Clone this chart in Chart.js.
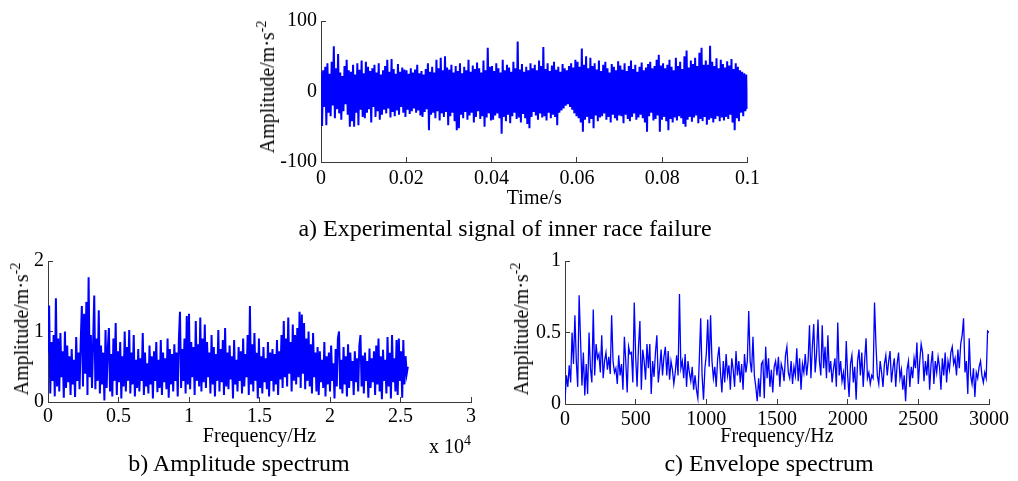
<!DOCTYPE html>
<html>
<head>
<meta charset="utf-8">
<script src="https://cdn.jsdelivr.net/npm/chart.js@4.4.0/dist/chart.umd.min.js"></script>
<style>
  body { margin: 0; background: #fff; font-family: "Liberation Serif", "Times New Roman", serif; }
  #wrap { position: relative; width: 1018px; height: 481px; overflow: hidden; }
  canvas { position: absolute; }
  .lbl { position: absolute; transform: translate(-50%, -50%); white-space: nowrap; color: #000; }
  .cap { font-size: 24px; }
  .ytitle { position: absolute; transform: translate(-50%, -50%) rotate(-90deg); white-space: nowrap; font-size: 20px; line-height: 20px; color: #000; }
  sup { font-size: 14px; vertical-align: 8px; line-height: 0; }
</style>
</head>
<body>
<div id="wrap">
  <canvas id="sigChart" width="530" height="212" style="left:240px;top:0px"></canvas>
  <canvas id="ampChart" width="500" height="210" style="left:0px;top:240px"></canvas>
  <canvas id="envChart" width="518" height="210" style="left:500px;top:240px"></canvas>

  <div class="ytitle" style="left:267px;top:87px">Amplitude/m·s<sup>-2</sup></div>
  <div class="ytitle" style="left:21px;top:329px">Amplitude/m·s<sup>-2</sup></div>
  <div class="ytitle" style="left:521px;top:329px">Amplitude/m·s<sup>-2</sup></div>

  <div class="lbl cap" style="left:505px;top:228px">a) Experimental signal of inner race failure</div>
  <div class="lbl cap" style="left:239px;top:463px">b) Amplitude spectrum</div>
  <div class="lbl cap" style="left:769px;top:463px">c) Envelope spectrum</div>
  <div class="lbl" style="left:450px;top:446px;font-size:20px">x 10<sup>4</sup></div>
</div>
<script>
// a) time signal, 0 - 0.1 s
var signalValues = [
  28, -49, 30, -22, 35, -48, 40, -30, 25, -35, 42, -20, 64, -38, 33, -25, 53, -31, 27, -40, 22, -28, 36, -18, 45, -33, 30, -50, 28, -42, 38, -50, 24, -30, 40, -48, 31, -26, 44, -36,
  26, -38, 42, -30, 35, -25, 29, -44, 33, -22, 38, -36, 27, -28, 40, -40, 24, -33, 30, -26, 36, -31, 45, -24, 28, -37, 46, -29, 32, -35, 25, -27, 39, -33, 28, -22, 34, -30, 31, -36,
  30, -26, 25, -32, 33, -28, 27, -24, 31, -30, 38, -27, 26, -34, 29, -36, 24, -29, 32, -25, 40, -55, 28, -33, 35, -30, 27, -38, 45, -28, 33, -41, 48, -31, 30, -36, 50, -29, 34, -48,
  31, -35, 38, -30, 27, -42, 36, -55, 29, -52, 40, -33, 26, -38, 35, -29, 30, -40, 45, -34, 28, -30, 37, -44, 32, -36, 41, -28, 33, -39, 27, -35, 44, -50, 30, -37, 62, -31, 35, -41,
  36, -40, 29, -34, 40, -31, 33, -38, 27, -60, 45, -36, 30, -42, 38, -33, 34, -45, 28, -35, 42, -30, 33, -39, 71, -37, 31, -44, 39, -32, 28, -38, 35, -46, 30, -52, 40, -36, 33, -29,
  38, -34, 30, -40, 44, -31, 36, -37, 63, -35, 32, -41, 40, -30, 29, -38, 37, -33, 42, -36, 31, -48, 35, -30, 28, -27, 39, -24, 33, -20, 30, -18, 36, -22, 40, -26, 34, -31, 45, -35,
  42, -38, 35, -44, 61, -57, 38, -40, 50, -36, 33, -45, 48, -39, 36, -52, 40, -34, 31, -42, 44, -37, 29, -35, 38, -31, 42, -40, 33, -36, 27, -44, 39, -33, 35, -38, 30, -41, 43, -34,
  37, -35, 31, -45, 40, -33, 29, -39, 36, -42, 44, -36, 32, -31, 38, -40, 28, -37, 35, -33, 41, -38, 30, -44, 34, -57, 39, -35, 42, -30, 33, -41, 36, -39, 45, -34, 52, -57, 37, -40,
  40, -36, 33, -42, 38, -55, 45, -39, 35, -44, 30, -37, 48, -41, 36, -35, 42, -38, 32, -46, 50, -50, 58, -40, 34, -36, 44, -43, 39, -37, 48, -34, 36, -45, 55, -39, 62, -42, 38, -36,
  44, -47, 38, -40, 65, -38, 42, -44, 36, -39, 47, -35, 33, -42, 45, -37, 39, -41, 34, -36, 43, -39, 37, -33, 46, -44, 32, -55, 40, -38, 35, -42, 30, -30, 28, -35, 26, -28, 24, -25
];
var signalDuration = 0.1;
var signalTicksX = [0, 0.02, 0.04, 0.06, 0.08, 0.1];
var signalTicksY = [-100, 0, 100];

// b) amplitude spectrum, one value every 80 Hz
var ampValues = [
  0.7, 1.37, 0.12, 0.85, 0.3, 0.95, 0.08, 1.47, 0.22, 0.9,
  0.15, 0.98, 0.35, 0.72, 0.06, 1.0, 0.2, 0.8, 0.28, 0.65,
  0.1, 0.75, 0.25, 0.6, 0.07, 0.92, 0.3, 0.7, 0.18, 0.85,
  1.36, 0.22, 1.25, 0.4, 1.42, 0.1, 1.77, 0.35, 0.95, 0.2,
  0.85, 1.51, 0.18, 0.9, 0.3, 1.3, 0.12, 0.8, 0.25, 0.7,
  0.02, 1.02, 0.2, 0.75, 1.05, 0.15, 0.68, 0.08, 0.9, 0.3,
  1.12, 0.1, 0.72, 0.28, 0.85, 0.05, 0.65, 0.22, 1.0, 0.15,
  0.78, 0.3, 1.02, 0.12, 0.7, 0.25, 0.95, 0.08, 0.6, 0.2,
  0.75, 0.15, 0.62, 0.3, 0.98, 0.1, 0.7, 0.22, 0.55, 0.12,
  0.8, 0.25, 0.65, 0.05, 0.72, 0.3, 0.85, 0.14, 0.6, 0.2,
  0.88, 0.1, 0.7, 0.28, 0.62, 0.18, 0.9, 0.06, 0.75, 0.25,
  0.68, 0.15, 0.82, 0.3, 0.7, 0.08, 0.88, 1.28, 0.2, 0.75,
  0.3, 0.9, 0.12, 1.22, 0.25, 1.25, 0.18, 0.85, 0.35, 0.78,
  0.1, 1.15, 0.3, 0.82, 0.22, 1.2, 0.15, 0.9, 0.28, 1.1,
  0.2, 0.85, 0.35, 0.7, 0.12, 0.95, 0.25, 0.78, 0.08, 0.68,
  0.3, 1.02, 0.15, 0.75, 0.28, 0.88, 0.1, 1.05, 0.22, 0.7,
  0.18, 0.8, 0.32, 0.65, 0.05, 0.88, 0.25, 0.6, 0.15, 0.78,
  0.3, 0.72, 0.12, 0.9, 0.22, 0.68, 0.35, 0.95, 0.1, 1.36,
  0.25, 0.82, 0.15, 0.98, 0.3, 0.7, 0.05, 0.9, 0.2, 0.65,
  0.12, 0.78, 0.28, 0.62, 0.18, 0.85, 0.08, 0.7, 0.3, 0.75,
  0.15, 0.68, 0.25, 0.88, 0.1, 0.72, 0.32, 0.95, 0.2, 1.15,
  0.35, 0.9, 0.22, 1.2, 0.4, 0.85, 0.15, 1.1, 0.3, 0.95,
  0.25, 1.05, 0.35, 1.28, 0.2, 1.24, 0.4, 1.12, 0.18, 0.9,
  0.3, 1.0, 0.22, 0.82, 0.12, 0.98, 0.35, 0.7, 0.15, 0.78,
  0.1, 0.72, 0.28, 0.6, 0.2, 0.85, 0.08, 0.65, 0.25, 0.7,
  0.15, 0.8, 0.3, 0.55, 0.05, 0.75, 0.22, 0.9, 1.0, 0.18,
  0.6, 0.12, 0.78, 0.25, 0.65, 0.08, 0.82, 0.2, 0.7, 0.3,
  0.58, 0.1, 0.72, 0.28, 0.62, 0.15, 0.8, 0.95, 0.22, 0.66,
  0.12, 0.7, 0.3, 0.58, 0.06, 0.76, 0.2, 0.62, 0.28, 0.72,
  0.1, 0.8, 0.25, 0.9, 0.15, 0.65, 0.04, 0.74, 0.3, 0.6,
  0.12, 0.92, 0.22, 0.7, 0.05, 0.95, 0.28, 0.62, 0.15, 0.88,
  0.1, 0.9, 0.3, 0.72, 0.06, 0.88, 0.25, 0.65, 0.4, 0.5
];
var ampStepHz = 80;
var ampTicksX = [0, 5000, 10000, 15000, 20000, 25000, 30000];
var ampTicksY = [0, 1, 2];

// c) envelope spectrum, one value every 10 Hz
var envValues = [
  0.02, 0.2, 0.12, 0.27, 0.15, 0.5, 0.28, 0.62, 0.3, 0.12,
  0.76, 0.45, 0.13, 0.36, 0.06, 0.28, 0.07, 0.5, 0.25, 0.15,
  0.66, 0.2, 0.42, 0.32, 0.35, 0.22, 0.48, 0.18, 0.3, 0.36,
  0.24, 0.33, 0.21, 0.62, 0.3, 0.22, 0.25, 0.14, 0.34, 0.2,
  0.28, 0.1, 0.47, 0.3, 0.08, 0.4, 0.35, 0.36, 0.15, 0.71,
  0.33, 0.12, 0.4, 0.58, 0.1, 0.38, 0.3, 0.17, 0.42, 0.25,
  0.42, 0.07, 0.3, 0.19, 0.36, 0.48, 0.15, 0.25, 0.38, 0.2,
  0.33, 0.4, 0.2, 0.37, 0.17, 0.3, 0.24, 0.14, 0.22, 0.34,
  0.2, 0.77, 0.25, 0.3, 0.18, 0.35, 0.12, 0.3, 0.22, 0.16,
  0.26, 0.1, 0.2, 0.1, 0.04, 0.3, 0.6, 0.2, 0.03, 0.25,
  0.35, 0.59, 0.26, 0.62, 0.3, 0.18, 0.26, 0.12, 0.32, 0.4,
  0.22, 0.08, 0.3, 0.15, 0.35, 0.2, 0.27, 0.1, 0.32, 0.24,
  0.12, 0.37, 0.2, 0.3, 0.15, 0.28, 0.1, 0.35, 0.22, 0.3,
  0.65, 0.3, 0.22, 0.47, 0.2, 0.12, 0.02, 0.18, 0.05, 0.28,
  0.3, 0.04, 0.4, 0.18, 0.32, 0.12, 0.24, 0.08, 0.26, 0.3,
  0.2, 0.33, 0.12, 0.28, 0.24, 0.16, 0.34, 0.4, 0.22, 0.18,
  0.3, 0.14, 0.26, 0.2, 0.39, 0.16, 0.32, 0.1, 0.28, 0.22,
  0.35, 0.2, 0.3, 0.55, 0.18, 0.4, 0.56, 0.22, 0.35, 0.59,
  0.3, 0.2, 0.55, 0.25, 0.4, 0.18, 0.48, 0.22, 0.3, 0.15,
  0.25, 0.32, 0.12, 0.57, 0.2, 0.3, 0.16, 0.22, 0.1, 0.44,
  0.2, 0.05, 0.28, 0.34, 0.15, 0.26, 0.03, 0.3, 0.38, 0.2,
  0.36, 0.12, 0.3, 0.46, 0.18, 0.22, 0.14, 0.2, 0.18, 0.71,
  0.42, 0.2, 0.14, 0.3, 0.22, 0.12, 0.28, 0.34, 0.2, 0.3,
  0.37, 0.15, 0.25, 0.32, 0.12, 0.28, 0.36, 0.18, 0.24, 0.1,
  0.2, 0.02, 0.24, 0.3, 0.12, 0.26, 0.18, 0.32, 0.25, 0.43,
  0.14, 0.3, 0.42, 0.36, 0.16, 0.3, 0.2, 0.35, 0.1, 0.28,
  0.37, 0.14, 0.3, 0.22, 0.33, 0.26, 0.1, 0.32, 0.2, 0.36,
  0.15, 0.3, 0.24, 0.36, 0.4, 0.28, 0.32, 0.2, 0.38, 0.25,
  0.42, 0.48, 0.6, 0.22, 0.3, 0.07, 0.46, 0.2, 0.14, 0.25,
  0.05, 0.22, 0.18, 0.26, 0.3, 0.2, 0.15, 0.22, 0.18, 0.51,
  0.5
];
var envStepHz = 10;
var envTicksX = [0, 500, 1000, 1500, 2000, 2500, 3000];
var envTicksY = [0, 0.5, 1];

var axisColor = '#3a3a3a';
var tickFont = { family: 'Liberation Serif', size: 20 };

function toPoints(values, step) {
  return values.map(function (v, i) { return { x: i * step, y: v }; });
}

function makeChart(id, points, o) {
  return new Chart(document.getElementById(id), {
    type: 'line',
    data: {
      datasets: [{
        data: points,
        borderColor: '#0000ff',
        borderWidth: o.lineWidth,
        pointRadius: 0,
        tension: 0,
        fill: false
      }]
    },
    options: {
      responsive: false,
      animation: false,
      events: [],
      layout: { padding: o.padding },
      plugins: { legend: { display: false }, tooltip: { enabled: false } },
      scales: {
        x: {
          type: 'linear',
          min: o.xTicks[0],
          max: o.xTicks[o.xTicks.length - 1],
          afterBuildTicks: function (s) { s.ticks = o.xTicks.map(function (v) { return { value: v }; }); },
          afterFit: function (s) { s.height = o.xHeight; },
          border: { color: axisColor, width: 1 },
          grid: { drawOnChartArea: false, tickLength: -5, tickColor: axisColor },
          ticks: { font: tickFont, color: '#000', padding: o.xPad, maxRotation: 0, autoSkip: false, callback: o.xFmt },
          title: { display: true, text: o.xTitle, font: tickFont, color: '#000', padding: { top: 0, bottom: 1 } }
        },
        y: {
          type: 'linear',
          min: o.yTicks[0],
          max: o.yTicks[o.yTicks.length - 1],
          afterBuildTicks: function (s) { s.ticks = o.yTicks.map(function (v) { return { value: v }; }); },
          afterFit: function (s) { s.width = o.yWidth; },
          border: { color: axisColor, width: 1 },
          grid: { drawOnChartArea: false, tickLength: -5, tickColor: axisColor },
          ticks: { font: tickFont, color: '#000', padding: 9, autoSkip: false, callback: function (v) { return String(v); } }
        }
      }
    }
  });
}

makeChart('sigChart', toPoints(signalValues, signalDuration / (signalValues.length - 1)), {
  xTicks: signalTicksX, yTicks: signalTicksY,
  padding: { left: 0, right: 21, top: 14, bottom: 0 },
  yWidth: 81, xHeight: 50, xPad: 10, lineWidth: 2,
  xTitle: 'Time/s',
  xFmt: function (v) { return String(v); }
});

makeChart('ampChart', toPoints(ampValues, ampStepHz), {
  xTicks: ampTicksX, yTicks: ampTicksY,
  padding: { left: 0, right: 29, top: 16, bottom: 0 },
  yWidth: 48, xHeight: 48, xPad: 8, lineWidth: 2,
  xTitle: 'Frequency/Hz',
  xFmt: function (v) { return String(v / 10000); }
});

makeChart('envChart', toPoints(envValues, envStepHz), {
  xTicks: envTicksX, yTicks: envTicksY,
  padding: { left: 0, right: 29, top: 16, bottom: 0 },
  yWidth: 65, xHeight: 46, xPad: 9, lineWidth: 1.3,
  xTitle: 'Frequency/Hz',
  xFmt: function (v) { return String(v); }
});
</script>
</body>
</html>
